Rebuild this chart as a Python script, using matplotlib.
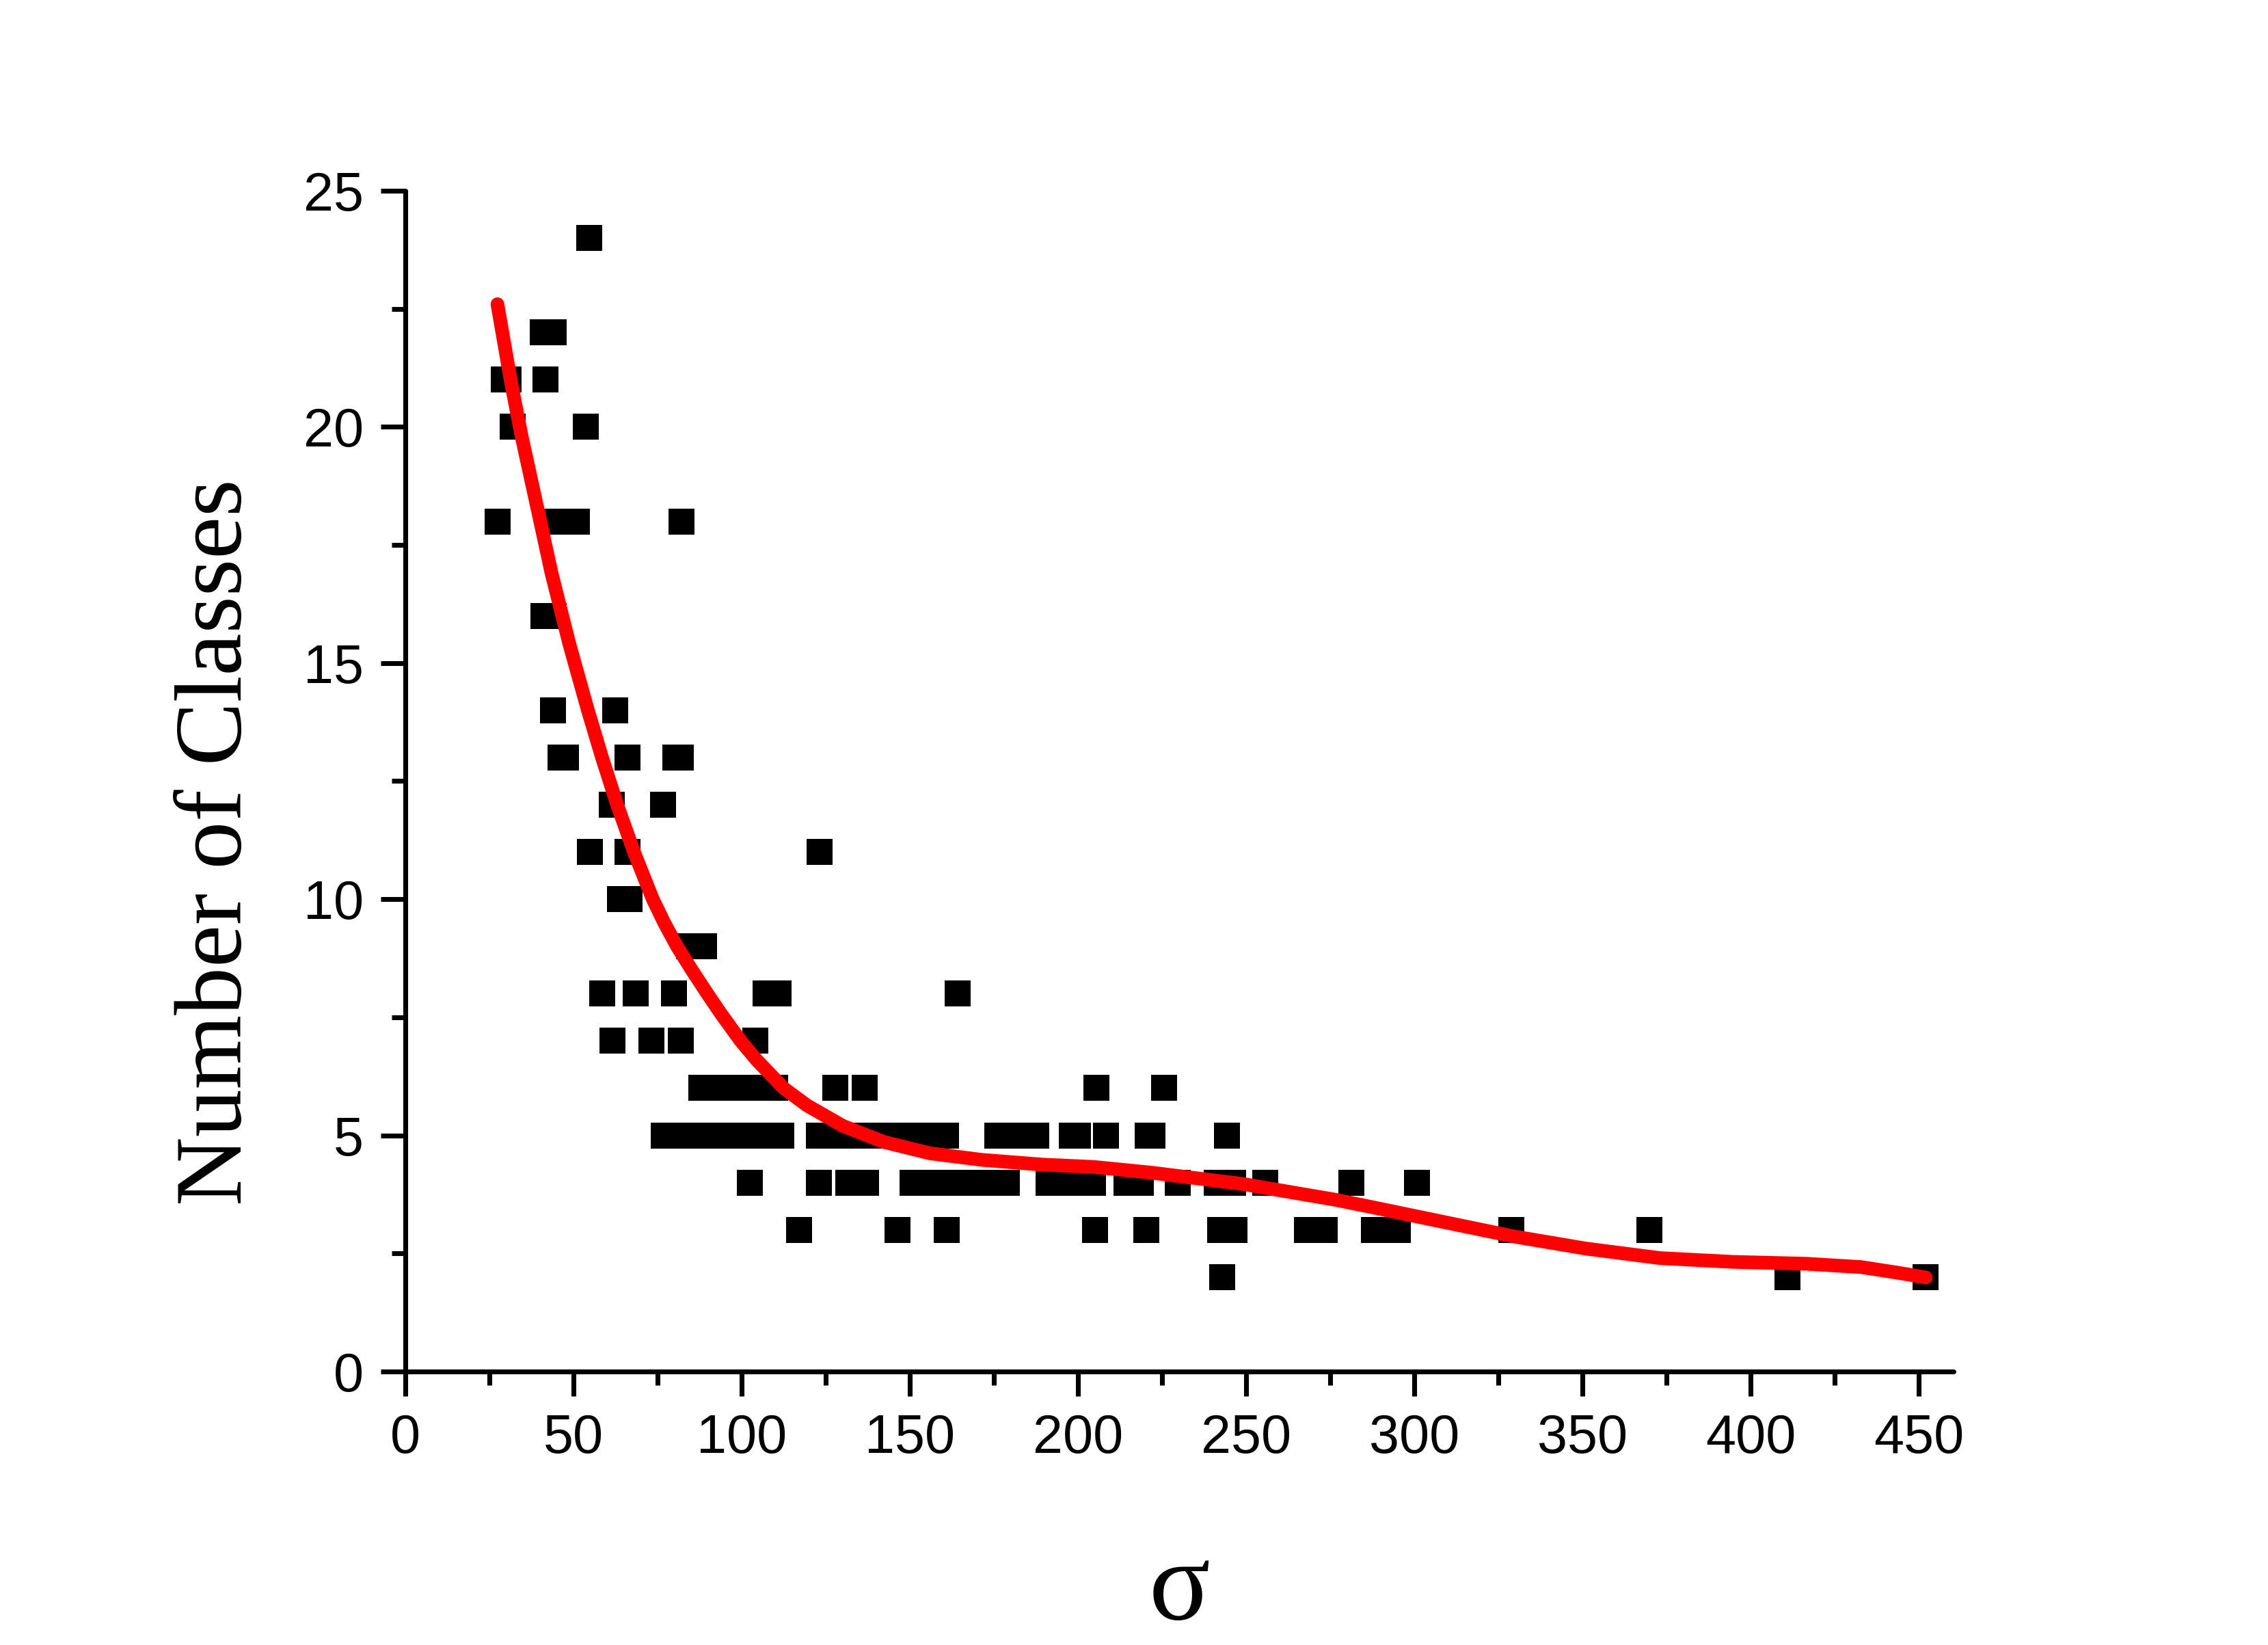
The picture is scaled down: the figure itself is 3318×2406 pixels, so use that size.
import numpy as np
import matplotlib
matplotlib.use("Agg")
import matplotlib.pyplot as plt
from matplotlib.ticker import MultipleLocator

# scatter data, grouped by number of classes
sigma_24 = [54.7]
sigma_22 = [40.9, 44.1]
sigma_21 = [29.3, 30.7, 41.7]
sigma_20 = [31.9, 53.7]
sigma_18 = [27.4, 45.1, 51.0, 82.1]
sigma_16 = [41.1, 44.1]
sigma_14 = [43.9, 62.4]
sigma_13 = [46.1, 47.8, 66.1, 80.3, 81.9]
sigma_12 = [61.4, 76.6]
sigma_11 = [54.9, 66.1, 123.2]
sigma_10 = [63.8, 66.7]
sigma_9 = [84.3, 88.8]
sigma_8 = [58.5, 68.5, 79.9, 107.1, 111.0, 164.3]
sigma_7 = [61.6, 73.2, 81.9, 104.1]
sigma_6 = [88.0, 93.5, 99.0, 104.5, 110.0, 127.8, 136.6, 205.5, 225.6]
sigma_5 = [76.8, 83.0, 89.0, 95.0, 101.0, 107.0, 111.8, 123.0, 129.0, 135.0,
           141.0, 147.0, 153.0, 160.8, 176.0, 182.0, 187.6, 198.2, 200.0,
           208.3, 220.7, 222.2, 244.3]
sigma_4 = [102.4, 123.0, 131.7, 137.0, 150.8, 156.5, 162.0, 167.5, 173.5,
           178.9, 191.3, 197.9, 204.5, 214.4, 218.7, 229.7, 241.3, 246.1,
           255.7, 281.3, 300.8]
sigma_3 = [117.1, 146.3, 161.0, 205.1, 220.3, 242.3, 246.5, 268.1, 273.4,
           288.0, 291.5, 295.1, 328.9, 369.9]
sigma_2 = [242.9, 411.0, 452.0]

levels = [24, 22, 21, 20, 18, 16, 14, 13, 12, 11, 10, 9, 8, 7, 6, 5, 4, 3, 2]
groups = [sigma_24, sigma_22, sigma_21, sigma_20, sigma_18, sigma_16, sigma_14,
          sigma_13, sigma_12, sigma_11, sigma_10, sigma_9, sigma_8, sigma_7,
          sigma_6, sigma_5, sigma_4, sigma_3, sigma_2]

# fitted curve
fit_x = [27.4, 31.3, 34.6, 38.6, 43.5, 48.8, 54.3, 58.5, 63.0, 68.0, 73.6,
         77.0, 80.8, 85.2, 89.8, 93.9, 99.7, 104.4, 112.5, 119.3, 130.1,
         142.3, 155.9, 171.5, 189.4, 204.7, 221.7, 249.0, 276.2, 286.0,
         307.7, 329.5, 351.2, 373.1, 394.8, 416.7, 432.9, 443.8, 452.1]
fit_y = [22.6, 21.0, 19.8, 18.5, 16.9, 15.4, 14.0, 13.0, 12.0, 11.0, 10.0,
         9.5, 9.0, 8.5, 8.0, 7.57, 7.0, 6.6, 6.0, 5.64, 5.2,
         4.86, 4.62, 4.48, 4.38, 4.33, 4.21, 3.97, 3.64, 3.50,
         3.18, 2.86, 2.60, 2.40, 2.32, 2.28, 2.21, 2.09, 1.99]

x_all = []
y_all = []
for lev, xs in zip(levels, groups):
    x_all += xs
    y_all += [lev] * len(xs)

fig = plt.figure(figsize=(3318 / 300, 2406 / 300), dpi=300)
ax = fig.add_axes([0.1787, 0.1663, 0.8614 - 0.1787, 0.884 - 0.1663])

ax.plot(x_all, y_all, linestyle="none", marker="s", markersize=9.1,
        markerfacecolor="black", markeredgewidth=0, zorder=2, clip_on=False)
ax.plot(fit_x, fit_y, color="#ff0000", linewidth=4.8, solid_capstyle="round",
        solid_joinstyle="round", zorder=3, clip_on=False)

ax.set_xlim(0, 460.4)
ax.set_ylim(0, 25)
ax.spines["top"].set_visible(False)
ax.spines["right"].set_visible(False)
for s in ["left", "bottom"]:
    ax.spines[s].set_linewidth(1.7)
    ax.spines[s].set_capstyle("round")

ax.xaxis.set_major_locator(MultipleLocator(50))
ax.xaxis.set_minor_locator(MultipleLocator(25))
ax.yaxis.set_major_locator(MultipleLocator(5))
ax.yaxis.set_minor_locator(MultipleLocator(2.5))
ax.tick_params(which="major", direction="out", length=8.6, width=1.7, pad=6,
               labelsize=19)
ax.tick_params(which="minor", direction="out", length=4.8, width=1.7)
for lab in ax.get_xticklabels() + ax.get_yticklabels():
    lab.set_family("Liberation Sans")

fig.text(0.0964, 0.488, "Number of Classes", family="Liberation Serif",
         fontsize=33.5, rotation=90, ha="center", va="center")
fig.text(0.520, 0.0158, "σ", family="Liberation Serif", fontsize=40,
         ha="center", va="baseline")

fig.savefig("out.png", dpi=300)
